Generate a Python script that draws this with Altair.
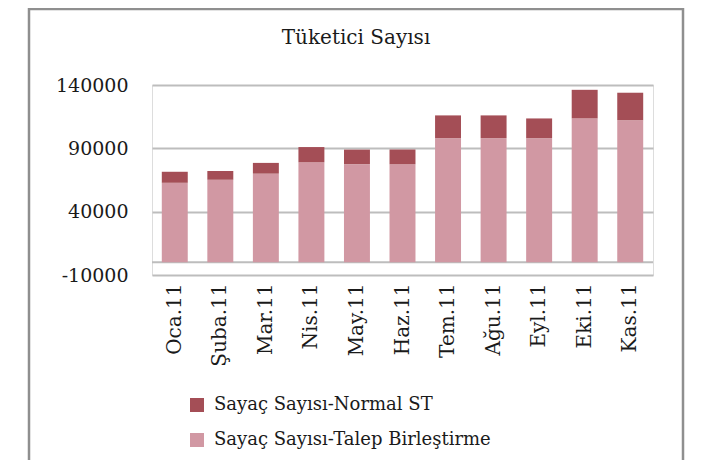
import altair as alt
import pandas as pd

months = ["Oca.11", "Şuba.11", "Mar.11", "Nis.11", "May.11", "Haz.11",
          "Tem.11", "Ağu.11", "Eyl.11", "Eki.11", "Kas.11"]
talep = [62800, 65200, 70000, 79000, 77500, 77500, 98000, 98000, 98000, 113700, 112200]
normal = [8700, 7000, 8500, 12000, 11500, 11500, 18000, 18000, 15600, 22500, 21700]
title_text = ["Tüketici Sayısı"]

s_normal = "Sayaç Sayısı-Normal ST"
s_talep = "Sayaç Sayısı-Talep Birleştirme"

rows = []
for m, t, n in zip(months, talep, normal):
    rows.append({"ay": m, "seri": s_talep, "deger": t, "ord": 0})
    rows.append({"ay": m, "seri": s_normal, "deger": n, "ord": 1})
df = pd.DataFrame(rows)

FONT = "DejaVu Serif"
W, H = 501, 190

frame = alt.Chart(alt.Data(values=[{"k": 1}])).mark_rect(
    fill="white", fillOpacity=0, stroke="#8f8f8f", strokeWidth=2.5
).encode(
    x=alt.value(-123), x2=alt.value(531), y=alt.value(-76), y2=alt.value(420)
)

title = alt.Chart(alt.Data(values=[{"t": title_text[0]}])).mark_text(
    font=FONT, fontSize=20, color="#1a1a1a", align="center", baseline="alphabetic"
).encode(text="t:N", x=alt.value(204), y=alt.value(-41))

zero = alt.Chart(alt.Data(values=[{"k": 1}])).mark_rule(
    color="#bdbdbd", strokeWidth=2
).encode(y=alt.datum(0, scale=alt.Scale(domain=[-10000, 140000], nice=False)))

bars = alt.Chart(df).mark_bar().encode(
    x=alt.X("ay:N", sort=months, title=None,
            scale=alt.Scale(paddingInner=0.43, paddingOuter=0.215),
            axis=alt.Axis(labelAngle=270, labelAlign="right", labelBaseline="middle",
                          labelPadding=8, labelFontSize=20, labelFont=FONT,
                          labelColor="#1a1a1a", domain=False, ticks=False, grid=False)),
    y=alt.Y("deger:Q", stack="zero", title=None,
            scale=alt.Scale(domain=[-10000, 140000], nice=False, zero=False),
            axis=alt.Axis(values=[-10000, 40000, 90000, 140000],
                          labelExpr="datum.value < 0 ? '-' + format(-datum.value, 'd') : format(datum.value, 'd')",
                          labelFontSize=19, labelFont=FONT, labelColor="#1a1a1a",
                          labelPadding=24, domain=False, ticks=False,
                          grid=True, gridColor="#bdbdbd", gridWidth=2)),
    color=alt.Color("seri:N", title=None,
                    scale=alt.Scale(domain=[s_normal, s_talep], range=["#A44E56", "#D198A3"]),
                    legend=alt.Legend(orient="none", legendX=36, legendY=311,
                                      direction="vertical", symbolType="square",
                                      symbolSize=196, symbolStrokeWidth=0,
                                      labelFont=FONT, labelFontSize=18,
                                      labelColor="#1a1a1a", labelOffset=8,
                                      rowPadding=17, labelLimit=400)),
    order=alt.Order("ord:Q", sort="ascending"),
)

chart = alt.layer(frame, title, zero, bars).properties(
    width=W, height=H,
    autosize=alt.AutoSizeParams(type="none"),
    padding={"left": 144, "top": 77, "right": 50, "bottom": 185},
).configure_view(stroke=None).configure(background="white")

chart.save("out.html", embed_options={"renderer": "svg", "actions": False})
